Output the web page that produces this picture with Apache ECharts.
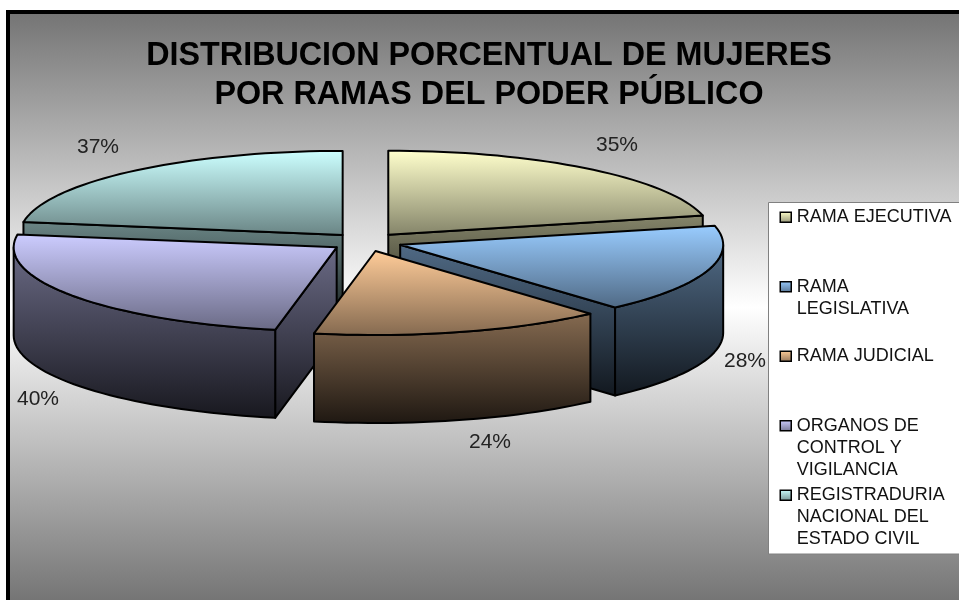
<!DOCTYPE html>
<html>
<head>
<meta charset="utf-8">
<style>html,body{margin:0;padding:0;background:#fff}#main{width:959px;height:600px}</style>
<script src="https://cdn.jsdelivr.net/npm/echarts@6/dist/echarts.min.js"></script>
</head>
<body>
<div id="main"></div>
<script>
// data
var categories = ['RAMA EJECUTIVA', 'RAMA LEGISLATIVA', 'RAMA JUDICIAL', 'ORGANOS DE CONTROL Y VIGILANCIA', 'REGISTRADURIA NACIONAL DEL ESTADO CIVIL'];
var values = [35, 28, 24, 40, 37];
var legendLines = [
  ['RAMA EJECUTIVA'],
  ['RAMA', 'LEGISLATIVA'],
  ['RAMA JUDICIAL'],
  ['ORGANOS DE', 'CONTROL Y', 'VIGILANCIA'],
  ['REGISTRADURIA', 'NACIONAL DEL', 'ESTADO CIVIL']
];
var colors = ['#FFFFCC', '#99CCFF', '#FFCC99', '#CCCCFF', '#CCFFFF'];

// layout of the tilted pie
var CX = 366, CY = 242, RX = 323, RY = 84, DEPTH = 88, EXPLODE = 0.111;
var labelPos = [[617, 145], [745, 361], [490, 442], [38, 399], [98, 147]];

var total = values.reduce(function (a, b) { return a + b; }, 0);
var rad = Math.PI / 180;

function startAngle(i) {
  var sum = 0;
  for (var k = 0; k < i; k++) sum += values[k];
  return sum / total * 360;
}
function shade(hex, f) {
  var n = parseInt(hex.slice(1), 16);
  return 'rgb(' + Math.round((n >> 16 & 255) * f) + ',' + Math.round((n >> 8 & 255) * f) + ',' + Math.round((n & 255) * f) + ')';
}
function vertical(y0, y1, c0, c1) {
  return {
    type: 'linear', global: true, x: 0, y: y0, x2: 0, y2: y1,
    colorStops: [{ offset: 0, color: c0 }, { offset: 1, color: c1 }]
  };
}
function depthZ(i) {
  var mid = (startAngle(i) + values[i] / total * 180) * rad;
  return 5 - 4 * Math.cos(mid);
}

function renderSlice(params, api) {
  var i = params.seriesIndex;
  var a0 = startAngle(i), a1 = a0 + api.value(0) / total * 360;
  var mid = (a0 + a1) / 2 * rad;
  var ax = CX + EXPLODE * RX * Math.sin(mid);
  var ay = CY - EXPLODE * RY * Math.cos(mid);
  function rim(a, dy) {
    return [ax + RX * Math.sin(a * rad), ay - RY * Math.cos(a * rad) + (dy || 0)];
  }
  function arc(from, to, dy) {
    var pts = [], n = Math.ceil(Math.abs(to - from) / 2);
    for (var k = 0; k <= n; k++) pts.push(rim(from + (to - from) * k / n, dy));
    return pts;
  }
  var topFace = [[ax, ay]].concat(arc(a0, a1));
  var walls = [];
  function wall(a) {
    var p = rim(a);
    walls.push([[ax, ay], p, [p[0], p[1] + DEPTH], [ax, ay + DEPTH]]);
  }
  if (Math.sin(a0 * rad) < -0.01) wall(a0);
  if (Math.sin(a1 * rad) > 0.01) wall(a1);
  var from = Math.max(a0, 90), to = Math.min(a1, 270);
  if (to > from) walls.push(arc(from, to).concat(arc(from, to, DEPTH).reverse()));

  var topYs = topFace.map(function (p) { return p[1]; });
  var wallYs = [];
  walls.forEach(function (w) { w.forEach(function (p) { wallYs.push(p[1]); }); });
  var topMin = Math.min.apply(null, topYs), topMax = Math.max.apply(null, topYs);
  var wallMin = Math.min.apply(null, wallYs), wallMax = Math.max.apply(null, wallYs);
  var topFill = vertical(topMin, topMax, colors[i], shade(colors[i], 0.52));
  var wallFill = vertical(wallMin, wallMax, shade(colors[i], 0.52), shade(colors[i], 0.12));

  var children = walls.map(function (w) {
    return { type: 'polygon', shape: { points: w }, style: { fill: wallFill, stroke: '#000', lineWidth: 2, lineJoin: 'round' } };
  });
  children.push({ type: 'polygon', shape: { points: topFace }, style: { fill: topFill, stroke: '#000', lineWidth: 2, lineJoin: 'round' } });
  children.push({
    type: 'text', x: labelPos[i][0], y: labelPos[i][1],
    style: {
      text: api.value(0) + '%', fill: '#222', font: '21px "Liberation Sans"',
      align: 'center', verticalAlign: 'middle'
    }
  });
  return { type: 'group', children: children };
}

var myChart = echarts.init(document.getElementById('main'));
var option = {
  animation: false,
  title: {
    text: 'DISTRIBUCION PORCENTUAL DE MUJERES\nPOR RAMAS DEL PODER PÚBLICO',
    left: 484, top: 32, textAlign: 'center', z: 20,
    textStyle: { fontFamily: 'Liberation Sans', fontWeight: 'bold', fontSize: 32.3, lineHeight: 39, color: '#000' }
  },
  graphic: [{
    type: 'rect', z: -1,
    shape: { x: 8, y: 12, width: 1000, height: 640 },
    style: {
      stroke: '#000', lineWidth: 4,
      fill: {
        type: 'linear', global: true, x: 0, y: 14, x2: 0, y2: 600,
        colorStops: [{ offset: 0, color: '#757575' }, { offset: 0.5, color: '#ffffff' }, { offset: 1, color: '#757575' }]
      }
    }
  }],
  legend: {
    orient: 'vertical', left: 768.5, top: 202.5, z: 20, selectedMode: false,
    padding: [3, 60, 3, 11], itemGap: 2, itemWidth: 12, itemHeight: 66,
    backgroundColor: '#fff', borderColor: '#808080', borderWidth: 1,
    icon: 'path://M0 0L0 0M0 6L11 6L11 16L0 16ZM0 66L0 66',
    itemStyle: { borderColor: '#000', borderWidth: 1.5 },
    data: categories.map(function (name, i) {
      return {
        name: name,
        itemStyle: {
          color: {
            type: 'linear', x: 0, y: 0.09, x2: 0, y2: 0.25,
            colorStops: [{ offset: 0, color: colors[i] }, { offset: 1, color: shade(colors[i], 0.6) }]
          }
        }
      };
    }),
    formatter: function (name) {
      var lines = legendLines[categories.indexOf(name)].slice();
      while (lines.length < 3) lines.push(' ');
      return lines.join('\n');
    },
    textStyle: { fontFamily: 'Liberation Sans', fontSize: 18, lineHeight: 22, color: '#111' }
  },
  series: categories.map(function (name, i) {
    return {
      type: 'custom', name: name, coordinateSystem: 'none', z: depthZ(i),
      silent: true, renderItem: renderSlice, data: [[values[i]]]
    };
  })
};
myChart.setOption(option);
</script>
</body>
</html>
